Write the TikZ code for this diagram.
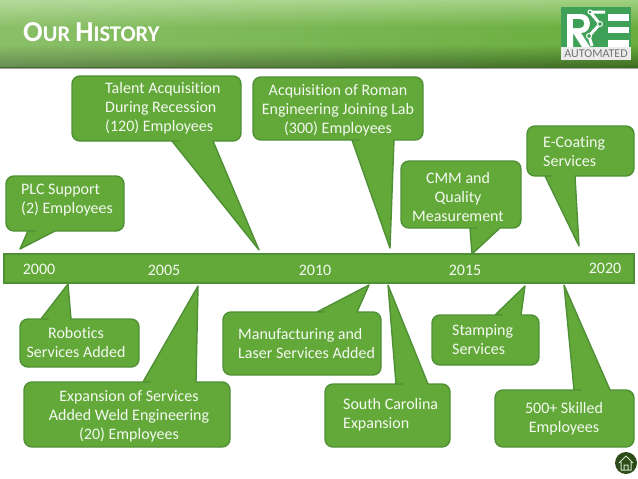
\documentclass[tikz,border=0pt]{standalone}
\usepackage{fontspec}
\setmainfont[Ligatures=NoCommon]{Carlito}
\usetikzlibrary{fadings}

\definecolor{leaf}{HTML}{63A939}
\definecolor{leafline}{HTML}{4F8F35}
\definecolor{logogreen}{HTML}{3FA157}
\definecolor{bannerlight}{HTML}{A0D080}
\definecolor{bannermid}{HTML}{6AAE3E}
\definecolor{bannerdark}{HTML}{3E6C22}

\pgfdeclareverticalshading{banner}{100bp}{color(0bp)=(bannerdark); color(25bp)=(bannerdark); color(42bp)=(bannermid); color(55bp)=(bannermid); color(75bp)=(bannerlight); color(100bp)=(bannerlight)}

\tikzset{
  bubble/.style={fill=leaf,draw=leafline,line width=1.4pt,line join=round},
  caption/.style={text=white!93!leaf,font=\fontsize{16}{19}\selectfont,inner sep=0pt},
  year/.style={text=white!93!leaf,font=\fontsize{16}{19}\selectfont,inner sep=0pt},
  joint/.style={fill=logogreen,draw=white,line width=1pt},
}

% box x1 y1 x2 y2, tail foot xa xb, tail tip
\newcommand{\bubbledown}[7]{
  \draw[bubble] (#5,#4) -- (#7) -- (#6,#4) -- (#6+0.5,#4) [rounded corners=8pt]
    -- (#3,#4) -- (#3,#2) -- (#1,#2) -- (#1,#4) -- (#5-0.5,#4) [sharp corners] -- cycle;
}
\newcommand{\bubbleup}[7]{
  \draw[bubble] (#5,#2) -- (#7) -- (#6,#2) -- (#6+0.5,#2) [rounded corners=8pt]
    -- (#3,#2) -- (#3,#4) -- (#1,#4) -- (#1,#2) -- (#5-0.5,#2) [sharp corners] -- cycle;
}

\begin{document}
\begin{tikzpicture}[x=1pt,y=-1pt]
\useasboundingbox (0,0) rectangle (638,479);

% header
\fill[black!35] (0,66) rectangle (638,69);
\shade[shading=banner] (0,0) rectangle (638,67);
\fill[white,opacity=.22,path fading=east] (0,0) rectangle (638,67);
\node[text=white,font=\bfseries,inner sep=0pt,anchor=west] (title) at (23,32)
  {\fontsize{29}{30}\selectfont O\fontsize{22.5}{30}\selectfont UR \fontsize{29}{30}\selectfont H\fontsize{22.5}{30}\selectfont ISTORY};

% logo
\fill[white!92!black] (561,7) rectangle (631,60);
\fill[logogreen] (561,7) rectangle (631,47);
\fill[white] (567,14) -- (581,14) to[out=0,in=0,looseness=1.6] (581,33) -- (590,47) -- (582,47) -- (573,33) -- (573,47) -- (567,47) -- cycle;
\fill[logogreen] (573,19) -- (580,19) to[out=0,in=0,looseness=1.6] (580,28) -- (573,28) -- cycle;
\fill[white] (608,14) rectangle (629,21);
\fill[white] (608,27) rectangle (629,33);
\fill[white] (608,40) rectangle (629,47);
\draw[white,line width=3pt,line join=round] (592,46) -- (589,36) -- (600,24) -- (590,12) -- (605,12);
\draw[joint] (589,36) circle (2.5);
\draw[joint] (600,24) circle (2.5);
\draw[joint] (590,12) circle (2);
\node[text=black!55,font=\fontsize{12}{13}\selectfont,inner sep=0pt] (logotext) at (596,54) {AUTOMATED};

% timeline
\draw[fill=leaf,draw=leafline,line width=1.4pt] (4,254) rectangle (634,283);
\node[year] (y2000) at (39,269) {2000};
\node[year] (y2005) at (164,270) {2005};
\node[year] (y2010) at (315,270) {2010};
\node[year] (y2015) at (465,270) {2015};
\node[year] (y2020) at (605,268) {2020};

% above the line
\bubbledown{72}{76}{241}{141}{172}{213}{259,250}
\node[caption,align=left,anchor=west] (talent) at (105,108) {Talent Acquisition\\During Recession\\(120) Employees};
\bubbledown{253}{77}{423}{140}{352}{394}{390,248}
\node[caption,align=center] (roman) at (338,110) {Acquisition of Roman\\Engineering Joining Lab\\(300) Employees};
\bubbledown{6}{176}{124}{231}{28}{55}{20,249}
\node[caption,align=left,anchor=west] (plc) at (21,200) {PLC Support\\(2) Employees};
\bubbledown{401}{161}{521}{228}{470}{500}{472,254}
\node[caption,align=center] (cmm) at (458,197) {CMM and\\Quality\\Measurement};
\bubbledown{527}{126}{634}{176}{545}{575}{579,246}
\node[caption,align=left,anchor=west] (ecoat) at (543,152) {E-Coating\\Services};

% below the line
\bubbleup{20}{319}{139}{367}{41}{71}{68,284}
\node[caption,align=center] (robotics) at (76,343) {Robotics\\Services Added};
\bubbleup{24}{382}{230}{447}{143}{196}{198,286}
\node[caption,align=center] (expansion) at (129,416) {Expansion of Services\\Added Weld Engineering\\(20) Employees};
\bubbleup{223}{312}{381}{375}{317}{357}{369,285}
\node[caption,align=left,anchor=west] (manufacturing) at (238,344) {Manufacturing and\\Laser Services Added};
\bubbleup{325}{384}{450}{447}{396}{428}{388,285}
\node[caption,align=left,anchor=west] (carolina) at (343,415) {South Carolina\\Expansion};
\bubbleup{432}{315}{539}{365}{495}{521}{525,286}
\node[caption,align=left,anchor=west] (stamping) at (452,340) {Stamping\\Services};
\bubbleup{495}{390}{634}{447}{574}{610}{564,285}
\node[caption,align=center] (skilled) at (564,419) {500+ Skilled\\Employees};

% home button
\fill[black!55!leaf] (626,463) circle (11);
\draw[white!70!leaf,line width=1pt,line join=round] (619,463) -- (626,456) -- (633,463) (621,462) -- (621,470) -- (631,470) -- (631,462) (624,470) -- (624,465) -- (628,465) -- (628,470);

\end{tikzpicture}
\end{document}
